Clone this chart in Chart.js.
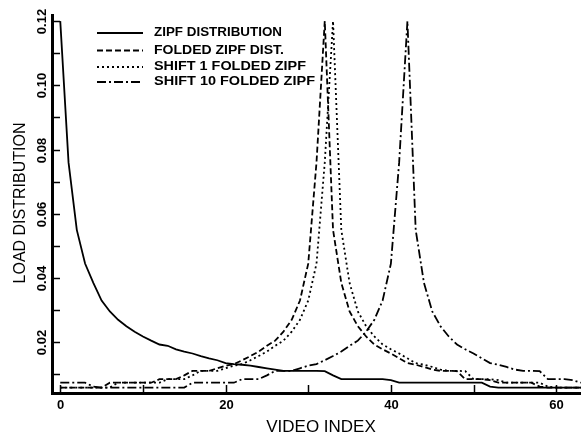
<!DOCTYPE html>
<html><head><meta charset="utf-8">
<script src="https://cdn.jsdelivr.net/npm/chart.js@4/dist/chart.umd.min.js"></script>
<style>html,body{margin:0;padding:0;background:#fff;}canvas{display:block;}</style>
</head><body>
<canvas id="c" width="581" height="435"></canvas>
<script>
const videoIndex = [0,1,2,3,4,5,6,7,8,9,10,11,12,13,14,15,16,17,18,19,20,21,22,23,24,25,26,27,28,29,30,31,32,33,34,35,36,37,38,39,40,41,42,43,44,45,46,47,48,49,50,51,52,53,54,55,56,57,58,59,60,61,62,63];

const zipf = [0.120,0.076,0.055,0.0445,0.0385,0.033,0.0296,0.027,0.025,0.0233,
  0.0218,0.0205,0.0193,0.0189,0.0178,0.0171,0.0165,0.0157,0.0150,0.0144,
  0.0135,0.0132,0.0130,0.0127,0.0123,0.0119,0.0115,0.0111,0.0111,0.0111,
  0.0111,0.0111,0.0110,0.0097,0.0085,0.0085,0.0085,0.0085,0.0085,0.0085,
  0.0082,0.0074,0.0074,0.0074,0.0074,0.0074,0.0074,0.0074,0.0074,0.0074,
  0.0074,0.0074,0.0062,0.0059,0.0059,0.0059,0.0059,0.0059,0.0059,0.0059,
  0.0059,0.0059,0.0059,0.0059];

const foldedZipf = [0.0059,0.0059,0.0059,0.0059,0.0059,0.0059,0.0074,0.0074,0.0074,0.0074,
  0.0074,0.0074,0.0085,0.0085,0.0085,0.0097,0.0111,0.0111,0.0111,0.0119,
  0.0127,0.0132,0.0144,0.0157,0.0171,0.0189,0.0205,0.0233,0.027,0.033,
  0.0445,0.076,0.120,0.055,0.0385,0.0296,0.025,0.0218,0.0193,0.0178,
  0.0165,0.0150,0.0135,0.0130,0.0123,0.0115,0.0111,0.0111,0.0110,0.0085,
  0.0085,0.0085,0.0082,0.0074,0.0074,0.0074,0.0074,0.0074,0.0062,0.0059,
  0.0059,0.0059,0.0059,0.0059];

const shift1FoldedZipf = [0.0059,0.0059,0.0059,0.0059,0.0059,0.0059,0.0059,0.0074,0.0074,0.0074,
  0.0074,0.0074,0.0074,0.0085,0.0085,0.0085,0.0097,0.0111,0.0111,0.0111,
  0.0119,0.0127,0.0132,0.0144,0.0157,0.0171,0.0189,0.0205,0.0233,0.027,
  0.033,0.0445,0.076,0.120,0.055,0.0385,0.0296,0.025,0.0218,0.0193,
  0.0178,0.0165,0.0150,0.0135,0.0130,0.0123,0.0115,0.0111,0.0111,0.0110,
  0.0085,0.0085,0.0085,0.0082,0.0074,0.0074,0.0074,0.0074,0.0074,0.0062,
  0.0059,0.0059,0.0059,0.0059];

const shift10FoldedZipf = [0.0074,0.0074,0.0074,0.0074,0.0062,0.0059,0.0059,0.0059,0.0059,0.0059,
  0.0059,0.0059,0.0059,0.0059,0.0059,0.0059,0.0074,0.0074,0.0074,0.0074,
  0.0074,0.0074,0.0085,0.0085,0.0085,0.0097,0.0111,0.0111,0.0111,0.0119,
  0.0127,0.0132,0.0144,0.0157,0.0171,0.0189,0.0205,0.0233,0.027,0.033,
  0.0445,0.076,0.120,0.055,0.0385,0.0296,0.025,0.0218,0.0193,0.0178,
  0.0165,0.0150,0.0135,0.0130,0.0123,0.0115,0.0111,0.0111,0.0110,0.0085,
  0.0085,0.0085,0.0082,0.0074];

const seriesNames = ['ZIPF DISTRIBUTION','FOLDED ZIPF DIST.','SHIFT 1 FOLDED ZIPF','SHIFT 10 FOLDED ZIPF'];
const xTickValues = [0,10,20,30,40,50,60];
const xTickLabels = ['0','','20','','40','','60'];
const yTickValues = [0.01,0.02,0.03,0.04,0.05,0.06,0.07,0.08,0.09,0.10,0.11,0.12];
const yTickLabels = ['','0.02','','0.04','','0.06','','0.08','','0.10','','0.12'];
const xTitle = 'VIDEO INDEX';
const yTitle = 'LOAD DISTRIBUTION';

const dashes = [[], [6,3], [2,3], [9,3,2,3]];
const seriesValues = [zipf, foldedZipf, shift1FoldedZipf, shift10FoldedZipf];

function pts(arr){ return videoIndex.map((x,i)=>({x:x, y:arr[i]})); }

function fitText(ctx, text, x, y, targetW){
  const w = ctx.measureText(text).width;
  ctx.save();
  ctx.translate(x, y);
  ctx.scale(targetW / w, 1);
  ctx.fillText(text, 0, 0);
  ctx.restore();
}

const decor = {
  id: 'decor',
  afterDraw(chart){
    const {ctx, chartArea: a, scales: {x, y}} = chart;
    ctx.save();
    ctx.strokeStyle = '#000'; ctx.fillStyle = '#000';
    ctx.lineWidth = 1.5; ctx.setLineDash([]);
    // y ticks and labels
    yTickValues.forEach((v,i)=>{
      const py = Math.round(y.getPixelForValue(v)) + 0.5;
      ctx.beginPath(); ctx.moveTo(a.left, py); ctx.lineTo(a.left + 8, py); ctx.stroke();
      if (yTickLabels[i]) {
        ctx.save();
        ctx.translate(42, py);
        ctx.rotate(-Math.PI/2);
        ctx.font = 'bold 13px "Liberation Sans", Arial, sans-serif';
        ctx.textAlign = 'center'; ctx.textBaseline = 'middle';
        ctx.fillText(yTickLabels[i], 0, 0);
        ctx.restore();
      }
    });
    // x ticks and labels
    xTickValues.forEach((v,i)=>{
      const px = Math.round(x.getPixelForValue(v)) + 0.5;
      ctx.beginPath(); ctx.moveTo(px, a.bottom); ctx.lineTo(px, a.bottom - 8); ctx.stroke();
      if (xTickLabels[i]) {
        ctx.font = 'bold 13px "Liberation Sans", Arial, sans-serif';
        ctx.textAlign = 'center'; ctx.textBaseline = 'middle';
        ctx.fillText(xTickLabels[i], px, 405);
      }
    });
    // axis titles
    ctx.font = '17px "Liberation Sans", Arial, sans-serif';
    ctx.textAlign = 'center'; ctx.textBaseline = 'middle';
    ctx.fillText(xTitle, 321, 427);
    ctx.save();
    ctx.translate(21, 203);
    ctx.rotate(-Math.PI/2);
    ctx.font = '16px "Liberation Sans", Arial, sans-serif';
    ctx.fillText(yTitle, 0, 0);
    ctx.restore();
    // legend
    const rows = [33, 50.5, 67, 82];
    const widths = [128, 130, 152, 161];
    ctx.font = 'bold 12px "Liberation Sans", Arial, sans-serif';
    ctx.textAlign = 'left'; ctx.textBaseline = 'middle';
    rows.forEach((ry,i)=>{
      ctx.save();
      ctx.lineWidth = 1.8;
      ctx.setLineDash(dashes[i]);
      ctx.beginPath(); ctx.moveTo(97, ry); ctx.lineTo(143, ry); ctx.stroke();
      ctx.restore();
      fitText(ctx, seriesNames[i], 154, ry, widths[i]);
    });
    ctx.restore();
  }
};

new Chart(document.getElementById('c'), {
  type: 'line',
  data: {
    datasets: seriesValues.map((arr,i)=>({
      label: seriesNames[i],
      data: pts(arr),
      borderColor: '#000',
      backgroundColor: '#000',
      borderWidth: 1.8,
      borderDash: dashes[i],
      pointRadius: 0,
      tension: 0,
      fill: false
    }))
  },
  options: {
    responsive: false,
    animation: false,
    devicePixelRatio: 1,
    layout: { padding: { left: 0, right: 0, top: 15, bottom: 0 } },
    plugins: { legend: { display: false }, tooltip: { enabled: false } },
    scales: {
      x: {
        type: 'linear', min: -1, max: 63,
        ticks: { display: false },
        grid: { display: false },
        border: { display: true, color: '#000', width: 3 },
        afterFit: s => { s.height = 42; }
      },
      y: {
        type: 'linear', min: 0.0042, max: 0.1219,
        ticks: { display: false },
        grid: { display: false },
        border: { display: true, color: '#000', width: 3 },
        afterFit: s => { s.width = 52; }
      }
    }
  },
  plugins: [decor]
});
</script>
</body></html>
